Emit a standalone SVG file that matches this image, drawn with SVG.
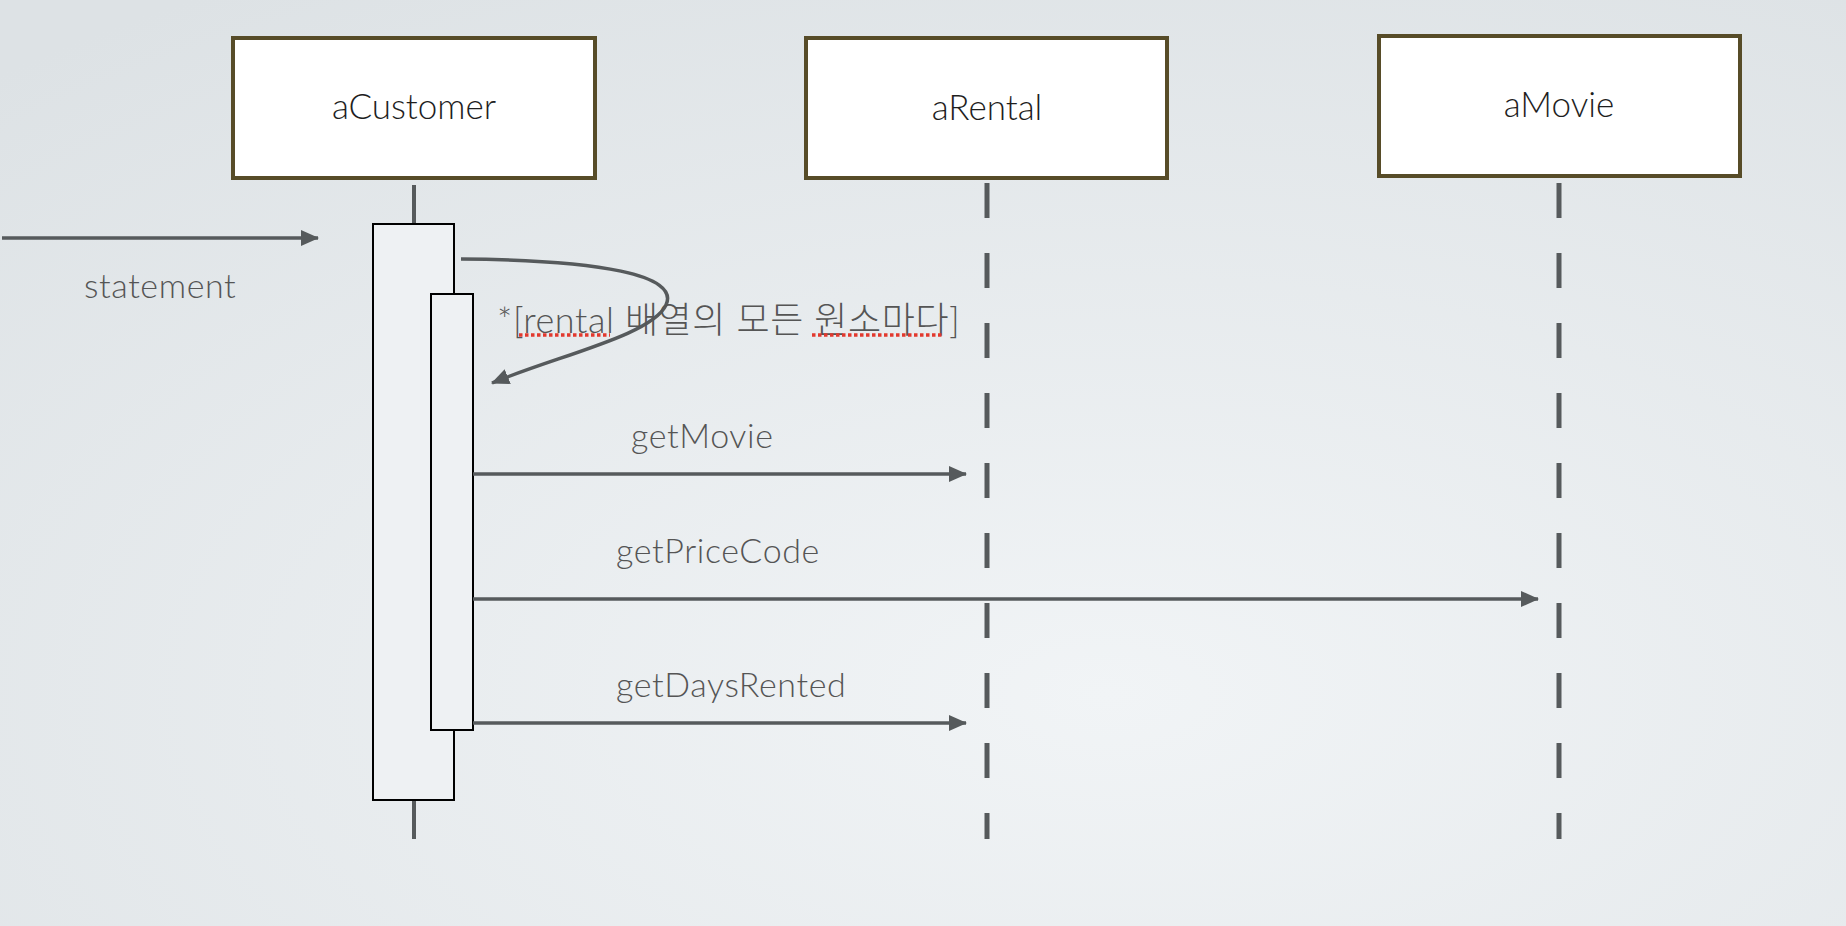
<svg xmlns="http://www.w3.org/2000/svg" width="1846" height="926" viewBox="0 0 1846 926">
<defs>
<radialGradient id="bg" cx="0.6" cy="0.75" r="0.9">
<stop offset="0" stop-color="#f1f4f6"/>
<stop offset="1" stop-color="#dde2e5"/>
</radialGradient>
<marker id="ah" markerWidth="18" markerHeight="16" refX="17" refY="8" orient="auto" markerUnits="userSpaceOnUse">
<path d="M0,0 L18,8 L0,16 Z" fill="#565a5c"/>
</marker>
<style>
.obj{fill:#ffffff;stroke:#574c28;stroke-width:4}
.objt{font-family:Lato,"Open Sans","Noto Sans CJK KR",sans-serif;font-size:35px;font-weight:300;fill:#1e1e1e;text-anchor:middle}
.life{stroke:#565a5c;stroke-width:4;fill:none}
.dash{stroke:#565a5c;stroke-width:5;fill:none;stroke-dasharray:35 35}
.act{fill:#eef1f3;stroke:#000;stroke-width:2}
.msg{stroke:#565a5c;stroke-width:3.5;fill:none;marker-end:url(#ah)}
.lbl{font-family:Lato,"Open Sans","Noto Sans CJK KR",sans-serif;font-size:34px;font-weight:300;letter-spacing:0.6px;fill:#555555}
.spell{stroke:#e2392e;stroke-width:3.5;stroke-dasharray:3.5 2.5;fill:none}
</style>
</defs>
<rect width="1846" height="926" fill="url(#bg)"/>

<g id="aCustomer">
<line class="life" x1="414" y1="185" x2="414" y2="224"/>
<line class="life" x1="414" y1="800" x2="414" y2="839"/>
<rect class="obj" x="233" y="38" width="362" height="140"/>
<text class="objt" x="414" y="119">aCustomer</text>
<rect class="act" x="373" y="224" width="81" height="576"/>
<rect class="act" x="431" y="294" width="42" height="436"/>
</g>

<g id="aRental">
<line class="dash" x1="987" y1="183" x2="987" y2="839"/>
<rect class="obj" x="806" y="38" width="361" height="140"/>
<text class="objt" x="987" y="120">aRental</text>
</g>

<g id="aMovie">
<line class="dash" x1="1559" y1="183" x2="1559" y2="839"/>
<rect class="obj" x="1379" y="36" width="361" height="140"/>
<text class="objt" x="1559" y="117">aMovie</text>
</g>

<g id="connectors">
<line class="msg" x1="2" y1="238" x2="318" y2="238"/>
<text class="lbl" x="84" y="298">statement</text>
<path class="msg" d="M461,259 C600,260 680,275 666,305 C652,335 560,355 492,383"/>
<text class="lbl" x="497" y="333" style="font-size:36px">*[rental 배열의 모든 원소마다]</text>
<line class="spell" x1="519" y1="335" x2="610" y2="335"/>
<line class="spell" x1="812" y1="335" x2="942" y2="335"/>
<line class="msg" x1="473" y1="474" x2="966" y2="474"/>
<text class="lbl" x="631" y="448">getMovie</text>
<line class="msg" x1="473" y1="599" x2="1538" y2="599"/>
<text class="lbl" x="616" y="563">getPriceCode</text>
<line class="msg" x1="473" y1="723" x2="966" y2="723"/>
<text class="lbl" x="616" y="697">getDaysRented</text>
</g>
</svg>
